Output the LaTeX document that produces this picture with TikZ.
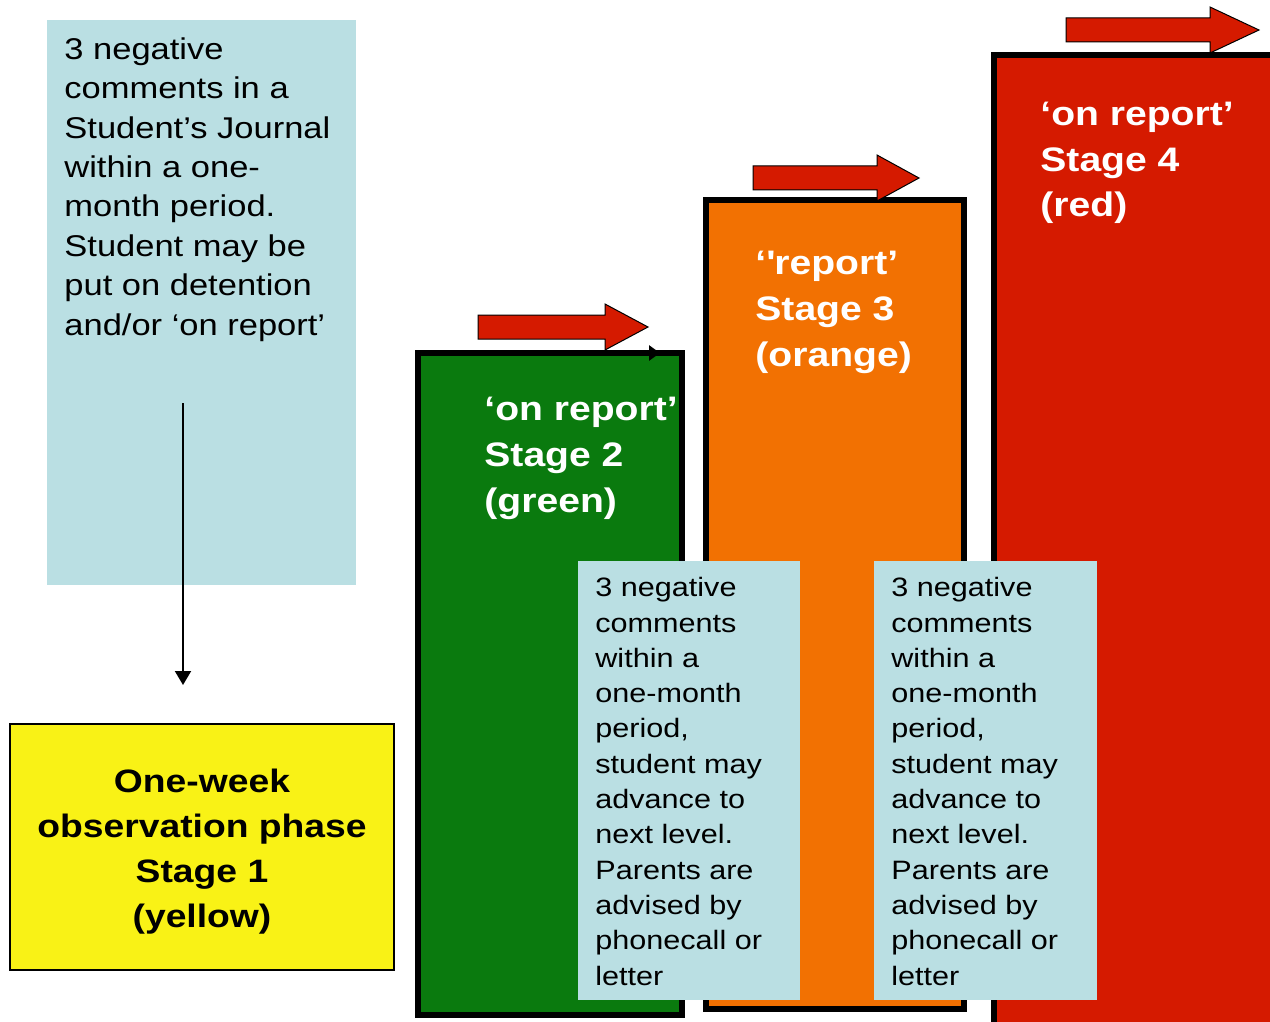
\documentclass[tikz,border=0pt]{standalone}
\usepackage{fontspec}
\setmainfont{Liberation Sans}[FakeStretch=1.15]
\usetikzlibrary{arrows.meta,positioning,calc}

\definecolor{noteblue}{RGB}{186,223,227}
\definecolor{styellow}{RGB}{249,242,22}
\definecolor{stgreen}{RGB}{10,122,14}
\definecolor{storange}{RGB}{242,113,2}
\definecolor{stred}{RGB}{213,26,0}

\begin{document}
\begin{tikzpicture}[
  x=0.5pt,y=-0.5pt,
  notebox/.style={fill=noteblue,inner sep=0pt,outer sep=0pt,anchor=north west},
  stagebox/.style={draw=black,line width=3pt,inner sep=0pt,outer sep=0pt,anchor=north west},
  notetxt/.style={font=\fontsize{15}{19.7}\selectfont,align=left,inner sep=0pt,anchor=base west},
  smalltxt/.style={font=\fontsize{13.3}{17.65}\selectfont,align=left,inner sep=0pt,anchor=base west},
  stagetxt/.style={font=\bfseries\fontsize{17}{23}\selectfont,text=white,align=left,inner sep=0pt,anchor=base west},
  stepup/.style={draw=black,line width=0.5pt,fill=stred,line join=miter},
  ar/.style={line width=1pt,-{Triangle[length=7pt,width=8pt]}}
]
\useasboundingbox (0,0) rectangle (1270,1022);
\clip (0,0) rectangle (1270,1022);

% stage 1 and its trigger (text nodes sit on their last baseline)
\node[notebox,minimum width=154.5pt,minimum height=282.5pt] (trig) at (47,20) {};
\node[notetxt] (trigtxt) at (64,335) {3 negative\\comments in a\\Student’s Journal\\within a one-\\month period.\\Student may be\\put on detention\\and/or ‘on report’};
\node[draw=black,line width=0.8pt,fill=styellow,inner sep=0pt,outer sep=0pt,anchor=north west,
      minimum width=192pt,minimum height=123pt] (s1) at (10,724) {};
\node[font=\bfseries\fontsize{16.2}{22.5}\selectfont,align=center,inner sep=0pt,anchor=base] (s1txt) at (202,927)
  {One-week\\observation phase\\Stage 1\\(yellow)};

% stages 2--4
\node[stagebox,fill=stgreen,minimum width=132pt,minimum height=331pt] (s2) at (418,353) {};
\node[stagebox,fill=storange,minimum width=129pt,minimum height=404.5pt] (s3) at (706,200) {};
\node[stagebox,fill=stred,minimum width=148pt,minimum height=492.5pt] (s4) at (994,55) {};
\node[stagetxt] (s2txt) at (484,512) {‘on report’\\Stage 2\\(green)};
\node[stagetxt] (s3txt) at (755,366) {‘\textquotesingle report’\\Stage 3\\(orange)};
\node[stagetxt] (s4txt) at (1040,217) {‘on report’\\Stage 4\\(red)};

% advance notes
\node[notebox,minimum width=111pt,minimum height=219.5pt] (adv2) at (578,561) {};
\node[notebox,minimum width=111.5pt,minimum height=219.5pt] (adv3) at (874,561) {};
\node[smalltxt] (adv2txt) at (595,985) {3 negative\\comments\\within a\\one-month\\period,\\student may\\advance to\\next level.\\Parents are\\advised by\\phonecall or\\letter};
\node[smalltxt] (adv3txt) at (891,985) {3 negative\\comments\\within a\\one-month\\period,\\student may\\advance to\\next level.\\Parents are\\advised by\\phonecall or\\letter};

% step-up arrows
\foreach \x/\y/\len/\hd in {478/327/170/43, 753/178/166/42, 1066/30/193/49}
  \draw[stepup] (\x,\y-12) -- ++(\len-\hd,0) -- ++(0,-11) -- (\x+\len,\y)
    -- (\x+\len-\hd,\y+23) -- ++(0,-11) -- (\x,\y+12) -- cycle;

% arrows
\coordinate (dtop) at (183,403);
\coordinate (dbot) at (183,685);
\draw[ar] (dtop) -- (dbot);
\coordinate (gtip) at (660,353);
\draw[line width=3pt,-{Triangle[length=5.5pt,width=7.5pt]}] (s2.north west) -- (gtip);
\end{tikzpicture}
\end{document}
